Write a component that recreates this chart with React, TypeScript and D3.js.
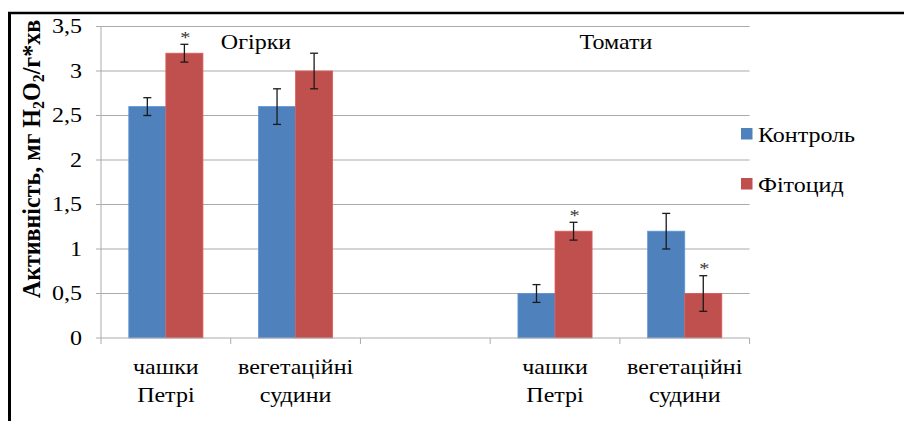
import * as d3 from "d3";

const categories = [
  ["чашки", "Петрі"],
  ["вегетаційні", "судини"],
  [],
  ["чашки", "Петрі"],
  ["вегетаційні", "судини"],
];
const seriesNames = ["Контроль", "Фітоцид"];
const seriesColors = ["#4F81BD", "#C0504D"];
const control = [2.6, 2.6, null, 0.5, 1.2];
const controlErr = [0.1, 0.2, null, 0.1, 0.2];
const phyto = [3.2, 3.0, null, 1.2, 0.5];
const phytoErr = [0.1, 0.2, null, 0.1, 0.2];
const phytoStar = [true, false, false, true, true];
const yTicks = [0, 0.5, 1, 1.5, 2, 2.5, 3, 3.5];
const groupLabels = [
  { text: "Огірки", at: 1.195 },
  { text: "Томати", at: 3.97 },
];

const W = 904;
const H = 421;
const plot = { left: 101, right: 749.6, top: 26.5, bottom: 338 };
const font = '"Liberation Serif", "Times New Roman", Times, serif';
// the source picture is stretched sideways, so the text is too
const SX = 1.2;

function T({
  x,
  y,
  children,
  anchor = "start",
  size = 20,
  fill = "#000",
}: {
  x: number;
  y: number;
  children: any;
  anchor?: string;
  size?: number;
  fill?: string;
}) {
  return (
    <text
      transform={`translate(${x},${y}) scale(${SX},1)`}
      textAnchor={anchor}
      fontSize={size}
      fill={fill}
      style={{ fontFamily: font }}
    >
      {children}
    </text>
  );
}

export default function App() {
  const idx = categories.map((_, i) => i);
  const x = d3
    .scaleBand<number>()
    .domain(idx)
    .range([plot.left, plot.right])
    .paddingInner(0)
    .paddingOuter(0);
  const catUnits = d3
    .scaleLinear()
    .domain([0, categories.length])
    .range([plot.left, plot.right]);
  // gap width 150% like excel
  const groupW = x.bandwidth() * (2 / 3.5);
  const inner = d3
    .scaleBand<number>()
    .domain([0, 1])
    .range([(x.bandwidth() - groupW) / 2, (x.bandwidth() + groupW) / 2]);
  const y = d3.scaleLinear().domain([0, 3.5]).range([plot.bottom, plot.top]);

  const series = [
    { values: control, errs: controlErr, stars: categories.map(() => false) },
    { values: phyto, errs: phytoErr, stars: phytoStar },
  ];

  const fmt = (v: number) => String(v).replace(".", ",");
  const barCx = (si: number, i: number) =>
    (x(i) ?? 0) + (inner(si) ?? 0) + inner.bandwidth() / 2;

  return (
    <svg
      width={W}
      height={H}
      style={{ position: "fixed", left: 0, top: 0, background: "#fff", fontFamily: font }}
    >
      <rect width={W} height={H} fill="#fff" />
      {/* frame */}
      <line x1={8} x2={W} y1={13} y2={13} stroke="#000" strokeWidth={2.5} />
      <line x1={9.5} x2={9.5} y1={12} y2={H} stroke="#000" strokeWidth={3} />

      {/* grid */}
      {yTicks.slice(1).map((t) => (
        <line
          key={t}
          x1={plot.left}
          x2={plot.right}
          y1={y(t)}
          y2={y(t)}
          stroke="#ababab"
          strokeWidth={1}
        />
      ))}

      {/* y axis */}
      <line x1={plot.left} x2={plot.left} y1={plot.top} y2={plot.bottom} stroke="#ababab" />
      {yTicks.map((t) => (
        <g key={t}>
          <line x1={plot.left - 5} x2={plot.left} y1={y(t)} y2={y(t)} stroke="#ababab" />
          <T x={82} y={y(t) + 6.5} anchor="end">
            {fmt(t)}
          </T>
        </g>
      ))}

      {/* bars */}
      {series.map((s, si) =>
        s.values.map((v, i) =>
          v == null ? null : (
            <rect
              key={`${si}-${i}`}
              x={(x(i) ?? 0) + (inner(si) ?? 0)}
              y={y(v)}
              width={inner.bandwidth()}
              height={y(0) - y(v)}
              fill={seriesColors[si]}
              stroke={d3.color(seriesColors[si])!.brighter(0.4).formatHex()}
              strokeWidth={0.8}
            />
          )
        )
      )}

      {/* error bars */}
      {series.map((s, si) =>
        s.values.map((v, i) => {
          if (v == null) return null;
          const e = s.errs[i] ?? 0;
          const cx = barCx(si, i);
          return (
            <g key={`e${si}-${i}`} stroke="#1a1a1a" strokeWidth={1.3}>
              <line x1={cx} x2={cx} y1={y(v - e)} y2={y(v + e)} />
              <line x1={cx - 4} x2={cx + 4} y1={y(v - e)} y2={y(v - e)} />
              <line x1={cx - 4} x2={cx + 4} y1={y(v + e)} y2={y(v + e)} />
            </g>
          );
        })
      )}

      {/* significance marks */}
      {series.map((s, si) =>
        s.values.map((v, i) => {
          if (v == null || !s.stars[i]) return null;
          const e = s.errs[i] ?? 0;
          return (
            <T
              key={`s${si}-${i}`}
              x={barCx(si, i) + 1}
              y={y(v + e) - 1.5}
              anchor="middle"
              size={17}
              fill="#333"
            >
              *
            </T>
          );
        })
      )}

      {/* x axis */}
      <line x1={plot.left} x2={plot.right} y1={plot.bottom} y2={plot.bottom} stroke="#ababab" />
      {d3.range(categories.length + 1).map((i) => (
        <line
          key={i}
          x1={catUnits(i)}
          x2={catUnits(i)}
          y1={plot.bottom}
          y2={plot.bottom + 6}
          stroke="#ababab"
        />
      ))}
      {categories.map((lines, i) =>
        lines.map((l, li) => (
          <T
            key={`${i}-${li}`}
            x={(x(i) ?? 0) + x.bandwidth() / 2}
            y={374 + li * 27.5}
            anchor="middle"
          >
            {l}
          </T>
        ))
      )}

      {/* group labels */}
      {groupLabels.map((g) => (
        <T key={g.text} x={catUnits(g.at)} y={49} anchor="middle">
          {g.text}
        </T>
      ))}

      {/* y title */}
      <text
        transform={`translate(40,159) scale(1.08,1) rotate(-90)`}
        textAnchor="middle"
        fontSize={24}
        fontWeight="bold"
        fill="#000"
        style={{ fontFamily: font }}
      >
        Активність, мг H
        <tspan baselineShift="-25%" fontSize={16}>2</tspan>
        O
        <tspan baselineShift="-25%" fontSize={16}>2</tspan>
        /г*хв
      </text>

      {/* legend */}
      {seriesNames.map((n, i) => (
        <g key={n}>
          <rect x={741} y={128 + i * 50} width={11.5} height={11.5} fill={seriesColors[i]} />
          <T x={758} y={142 + i * 50}>
            {n}
          </T>
        </g>
      ))}
    </svg>
  );
}
